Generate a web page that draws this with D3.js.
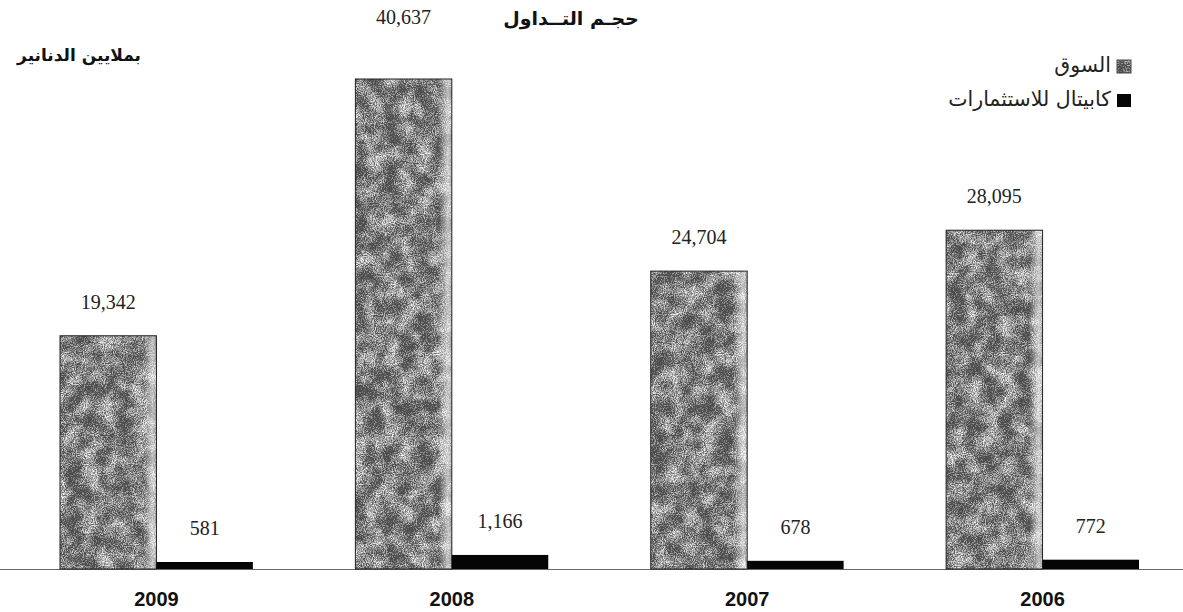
<!DOCTYPE html>
<html><head><meta charset="utf-8">
<script src="https://cdn.jsdelivr.net/npm/d3@7/dist/d3.min.js"></script>
<style>body{margin:0;background:#fff}svg{display:block}</style>
</head><body>
<svg id="c" width="1183" height="612"></svg>
<script>
const years = ["2009", "2008", "2007", "2006"];
const seriesNames = ["السوق", "كابيتال للاستثمارات"];
const marketValues = [19342, 40637, 24704, 28095];
const capitalValues = [581, 1166, 678, 772];
const title = "حجـم التــداول";
const unitLabel = "بملايين الدنانير";

const svg = d3.select("#c");
const W = 1183, H = 612;
const baseY = 569;
const defs = svg.append("defs");

const f = defs.append("filter").attr("id","noise").attr("x",0).attr("y",0).attr("width","100%").attr("height","100%")
  .attr("color-interpolation-filters","sRGB");
f.append("feTurbulence").attr("type","fractalNoise").attr("baseFrequency","0.9").attr("numOctaves",2).attr("seed",3).attr("result","fine");
f.append("feColorMatrix").attr("in","fine").attr("type","matrix")
 .attr("values","2.4 0 0 0 -0.7  2.4 0 0 0 -0.7  2.4 0 0 0 -0.7  0 0 0 0 1").attr("result","fg");
f.append("feTurbulence").attr("type","fractalNoise").attr("baseFrequency","0.06").attr("numOctaves",3).attr("seed",9).attr("result","coarse");
f.append("feColorMatrix").attr("in","coarse").attr("type","matrix")
 .attr("values","2 0 0 0 -0.5  2 0 0 0 -0.5  2 0 0 0 -0.5  0 0 0 0 1").attr("result","cg");
f.append("feComposite").attr("in","fg").attr("in2","cg").attr("operator","arithmetic")
 .attr("k1",0).attr("k2",0.55).attr("k3",0.45).attr("k4",-0.3).attr("result","mix");
f.append("feComposite").attr("in","mix").attr("in2","SourceGraphic").attr("operator","in");

const grad = defs.append("linearGradient").attr("id","edge").attr("x1","0").attr("x2","1").attr("y1","0").attr("y2","0");
grad.append("stop").attr("offset","0.86").attr("stop-color","#fff").attr("stop-opacity",0);
grad.append("stop").attr("offset","0.96").attr("stop-color","#fff").attr("stop-opacity",0.6);
grad.append("stop").attr("offset","1").attr("stop-color","#fff").attr("stop-opacity",0.4);

const x0 = d3.scaleBand().domain(years).range([60, 1139]).paddingInner(0.347).paddingOuter(0);
const x1 = d3.scaleBand().domain([0,1]).range([0, x0.bandwidth()]);
const y = d3.scaleLinear().domain([0, 40637]).range([baseY, 79]);

svg.append("line").attr("x1",0).attr("x2",W).attr("y1",baseY+0.5).attr("y2",baseY+0.5)
  .attr("stroke","#666").attr("stroke-width",1);

const g = svg.append("g");
const mk = g.selectAll(".m").data(years).enter().append("g");
mk.append("rect").attr("x",d=>x0(d)+x1(0)).attr("width",x1.bandwidth())
  .attr("y",(d,i)=>y(marketValues[i])).attr("height",(d,i)=>baseY-y(marketValues[i]))
  .attr("fill","#000").attr("filter","url(#noise)");
mk.append("rect").attr("x",d=>x0(d)+x1(0)).attr("width",x1.bandwidth())
  .attr("y",(d,i)=>y(marketValues[i])).attr("height",(d,i)=>baseY-y(marketValues[i]))
  .attr("fill","url(#edge)").attr("stroke","#222").attr("stroke-width",1);
g.selectAll(".c").data(years).enter().append("rect")
  .attr("x",d=>x0(d)+x1(1)).attr("width",x1.bandwidth())
  .attr("y",(d,i)=>y(capitalValues[i])).attr("height",(d,i)=>baseY-y(capitalValues[i]))
  .attr("fill","#050505");

const fmt = d3.format(",");
const maxM = d3.max(marketValues);
g.selectAll(".ml").data(years).enter().append("text")
  .attr("x",d=>x0(d)+x1(0)+x1.bandwidth()/2)
  .attr("y",(d,i)=> marketValues[i]===maxM ? 24 : y(marketValues[i])-27)
  .attr("text-anchor","middle").attr("font-family","Liberation Serif").attr("font-size",20).attr("fill","#222")
  .text((d,i)=>fmt(marketValues[i]));
g.selectAll(".cl").data(years).enter().append("text")
  .attr("x",d=>x0(d)+x1(1)+x1.bandwidth()/2)
  .attr("y",(d,i)=> y(capitalValues[i])-27)
  .attr("text-anchor","middle").attr("font-family","Liberation Serif").attr("font-size",20).attr("fill","#222")
  .text((d,i)=>fmt(capitalValues[i]));

const ax = svg.append("g").attr("transform",`translate(0,${baseY})`)
  .call(d3.axisBottom(x0).tickSize(0).tickPadding(23));
ax.select(".domain").remove();
ax.selectAll("text").attr("font-family","Liberation Sans").attr("font-weight","bold").attr("font-size",20).attr("fill","#111");

svg.append("text").attr("x",571).attr("y",25).attr("text-anchor","middle").attr("direction","rtl")
  .attr("font-family","DejaVu Sans").attr("font-weight","bold").attr("font-size",19).attr("fill","#111").text(title);
svg.append("text").attr("x",141).attr("y",61).attr("text-anchor","start").attr("direction","rtl")
  .attr("font-family","DejaVu Sans").attr("font-weight","bold").attr("font-size",17).attr("fill","#111").text(unitLabel);

const lg = svg.append("g");
seriesNames.forEach((n,i)=>{
  const yy = 60 + i*34;
  if(i===0){
    lg.append("rect").attr("x",1117).attr("y",yy).attr("width",14).attr("height",13).attr("fill","#000").attr("filter","url(#noise)");
    lg.append("rect").attr("x",1117).attr("y",yy).attr("width",14).attr("height",13).attr("fill","none").attr("stroke","#444");
  } else {
    lg.append("rect").attr("x",1117).attr("y",yy).attr("width",14).attr("height",13).attr("fill","#050505");
  }
  lg.append("text").attr("x",1111).attr("y",yy+12).attr("text-anchor","start").attr("direction","rtl")
    .attr("font-family","DejaVu Sans").attr("font-size",20.5).attr("fill","#222").text(n);
});
</script>
</body></html>
